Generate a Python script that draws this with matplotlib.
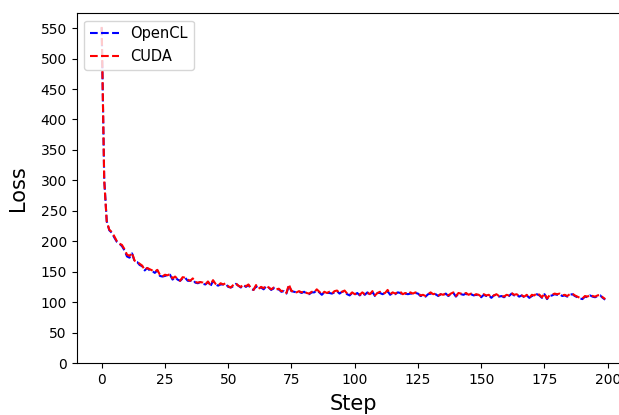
import numpy as np
import matplotlib
matplotlib.use("Agg")
import matplotlib.pyplot as plt

# loss per training step
cuda_loss = [
    552, 300, 232, 219, 215, 208, 200, 196, 194, 187,
    178, 176, 181, 168, 166, 163, 160, 153, 156, 154,
    152, 150, 153, 145, 142, 145, 144, 146, 139, 142,
    138, 135, 141, 140, 137, 135, 139, 133, 132, 133,
    132, 129, 134, 128, 136, 130, 127, 131, 129, 131,
    126, 124, 128, 131, 127, 125, 129, 126, 129, 123,
    120, 128, 122, 125, 123, 127, 124, 121, 124, 121,
    122, 118, 119, 115, 129, 118, 119, 116, 118, 116,
    118, 115, 114, 117, 116, 121, 117, 113, 117, 115,
    117, 114, 118, 119, 115, 117, 119, 114, 112, 116,
    113, 115, 112, 116, 113, 116, 113, 118, 111, 115,
    117, 114, 115, 120, 113, 116, 114, 116, 117, 113,
    115, 113, 116, 114, 116, 115, 111, 112, 110, 113,
    116, 113, 114, 111, 113, 112, 115, 111, 114, 116,
    110, 115, 114, 113, 115, 112, 114, 111, 113, 112,
    109, 113, 111, 112, 108, 111, 113, 110, 111, 109,
    112, 111, 115, 112, 113, 110, 111, 109, 112, 107,
    112, 111, 115, 112, 108, 114, 106, 111, 112, 114,
    113, 114, 111, 112, 110, 113, 114, 111, 109, 107,
    106, 110, 109, 112, 110, 109, 111, 112, 108, 105,
]

opencl_loss = [
    551, 302, 233, 218, 214, 206, 199, 196, 192, 185,
    175, 173, 180, 167, 166, 161, 159, 152, 156, 152,
    151, 148, 152, 143, 142, 143, 144, 145, 137, 141,
    137, 135, 139, 140, 135, 135, 137, 132, 131, 133,
    130, 129, 133, 126, 135, 129, 127, 129, 129, 130,
    125, 124, 126, 130, 127, 124, 128, 125, 128, 122,
    120, 126, 122, 124, 121, 126, 124, 120, 123, 120,
    121, 117, 118, 114, 127, 118, 117, 116, 117, 115,
    117, 114, 113, 116, 116, 119, 116, 112, 116, 115,
    115, 114, 116, 118, 114, 117, 117, 113, 111, 115,
    112, 115, 111, 115, 112, 116, 111, 117, 110, 115,
    115, 113, 115, 118, 112, 115, 113, 116, 115, 112,
    114, 113, 114, 114, 115, 114, 110, 111, 109, 113,
    114, 112, 113, 110, 113, 111, 114, 110, 113, 115,
    109, 114, 113, 112, 114, 111, 113, 111, 112, 111,
    108, 112, 110, 111, 107, 111, 112, 109, 110, 108,
    111, 110, 114, 111, 112, 109, 111, 108, 111, 107,
    110, 111, 113, 111, 107, 113, 105, 110, 111, 113,
    112, 113, 110, 111, 109, 112, 113, 110, 108, 106,
    105, 109, 108, 111, 109, 108, 110, 111, 107, 104,
]

steps = np.arange(len(cuda_loss))

fig = plt.figure(figsize=(6.19, 4.15), dpi=100)
ax = fig.add_axes([0.1236, 0.1253, 0.8948, 0.8427])

ax.plot(steps, opencl_loss, color="blue", linestyle="--", label="OpenCL")
ax.plot(steps, cuda_loss, color="red", linestyle="--", label="CUDA")

ax.set_ylim(bottom=0)
ax.set_yticks(np.arange(0, 551, 50))
ax.set_xticks(np.arange(0, 201, 25))
ax.set_xlabel("Step", fontsize=15, labelpad=5)
ax.set_ylabel("Loss", fontsize=15, labelpad=9)
ax.legend(loc="upper left", fontsize=10.5)

fig.savefig("out.png", dpi=100)
